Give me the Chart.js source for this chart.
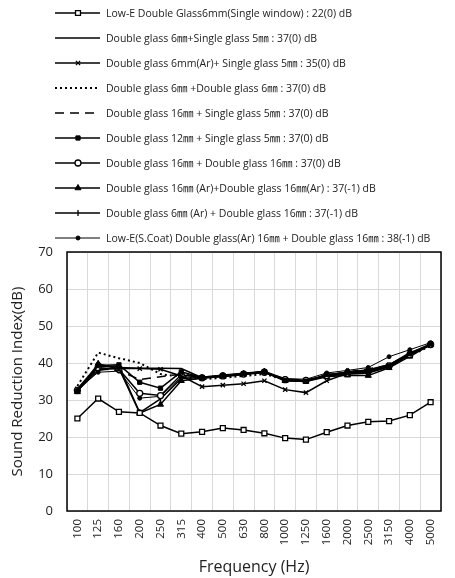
<!DOCTYPE html>
<html><head><meta charset="utf-8">
<script src="https://cdn.jsdelivr.net/npm/chart.js@4/dist/chart.umd.min.js"></script>
<style>html,body{margin:0;padding:0;background:#fff;}canvas{display:block;}</style>
</head><body>
<canvas id="c" width="455" height="578"></canvas>
<script>
const frequencies = ['100','125','160','200','250','315','400','500','630','800','1000','1250','1600','2000','2500','3150','4000','5000'];
const lowESingle   = [25.0,30.4,26.8,26.5,23.1,20.9,21.4,22.4,21.9,21.0,19.7,19.3,21.3,23.1,24.1,24.3,25.9,29.4];
const dbl6Single5  = [32.5,38.0,38.8,38.6,38.6,38.5,36.0,36.3,36.9,37.4,35.3,35.0,36.8,37.5,38.2,39.5,42.5,44.8];
const dbl6ArSingle5= [33.0,39.5,38.5,38.5,38.3,36.5,33.6,34.0,34.4,35.2,32.8,32.0,35.2,37.2,38.0,39.5,42.8,44.9];
const dbl6Dbl6     = [33.8,42.8,41.3,40.0,37.0,36.3,35.6,36.0,36.5,37.0,35.5,35.3,36.5,37.5,38.0,39.0,42.0,44.6];
const dbl16Single5 = [33.0,38.5,38.0,35.5,36.3,37.0,36.2,36.5,37.0,37.5,35.6,35.4,36.6,37.6,38.4,39.4,42.4,45.0];
const dbl12Single5 = [32.3,39.3,39.5,34.8,33.2,37.6,36.1,36.6,37.1,37.6,35.3,35.1,36.9,37.4,37.5,39.0,42.5,45.2];
const dbl16Dbl16   = [32.6,38.7,38.3,31.8,31.2,36.8,36.0,36.5,37.0,37.5,35.5,35.3,36.6,37.2,37.8,39.2,42.2,45.0];
const dbl16ArDbl16Ar=[32.2,39.8,38.5,26.5,28.8,35.2,35.9,36.4,37.0,37.7,35.2,35.0,36.3,36.7,36.6,38.7,41.8,44.9];
const dbl6ArDbl16  = [32.4,39.0,39.2,26.6,30.3,35.8,36.1,36.6,37.1,37.6,35.4,35.2,36.5,37.0,37.3,39.0,42.2,45.0];
const lowECoatDbl16= [32.8,37.5,37.8,30.5,31.0,36.2,36.2,36.8,37.3,37.8,35.8,35.6,37.3,38.0,38.8,41.7,43.6,45.5];
const seriesLabels = [
  'Low-E Double Glass6mm(Single window) : 22(0) dB',
  'Double glass 6\u339C+Single glass 5\u339C : 37(0) dB',
  'Double glass 6mm(Ar)+ Single glass 5\u339C : 35(0) dB',
  'Double glass 6\u339C +Double glass 6\u339C : 37(0) dB',
  'Double glass 16\u339C + Single glass 5\u339C : 37(0) dB',
  'Double glass 12\u339C + Single glass 5\u339C : 37(0) dB',
  'Double glass 16\u339C + Double glass 16\u339C : 37(0) dB',
  'Double glass 16\u339C (Ar)+Double glass 16\u339C(Ar) : 37(-1) dB',
  'Double glass 6\u339C (Ar) + Double glass 16\u339C : 37(-1) dB',
  'Low-E(S.Coat) Double glass(Ar) 16\u339C + Double glass 16\u339C : 38(-1) dB'
];
const seriesValues = [lowESingle,dbl6Single5,dbl6ArSingle5,dbl6Dbl6,dbl16Single5,dbl12Single5,dbl16Dbl16,dbl16ArDbl16Ar,dbl6ArDbl16,lowECoatDbl16];
const yMin = 0, yMax = 70, yStep = 10;

const FONT = "'Open Sans','Noto Sans CJK KR',sans-serif";
const styles = [
  {ps:'rect', r:3.5, bg:'#fff', bw:1.3, lw:1.5, dash:[]},
  {ps:false, r:0, bg:'#000', bw:1, lw:1.5, dash:[]},
  {ps:'crossRot', r:3, bg:'#000', bw:1.3, lw:1.5, dash:[]},
  {ps:false, r:0, bg:'#000', bw:1, lw:2, dash:[2,3]},
  {ps:false, r:0, bg:'#000', bw:1, lw:1.5, dash:[9,6]},
  {ps:'rect', r:3, bg:'#000', bw:1, lw:1.5, dash:[]},
  {ps:'circle', r:3, bg:'#fff', bw:1.3, lw:1.5, dash:[]},
  {ps:'triangle', r:3.5, bg:'#000', bw:1, lw:1.5, dash:[]},
  {ps:'line', r:3, bg:'#000', bw:1.3, lw:1.5, dash:[], rot:90},
  {ps:'circle', r:2, bg:'#000', bw:1, lw:1, dash:[]}
];

const datasets = seriesValues.map((vals,i)=>{
  const s = styles[i];
  return {
    label: seriesLabels[i], data: vals,
    borderColor:'#000', borderWidth:s.lw, borderDash:s.dash,
    pointStyle: s.ps || 'circle', pointRadius: s.ps ? s.r : 0,
    pointRotation: s.rot || 0,
    pointBackgroundColor:s.bg, pointBorderColor:'#000', pointBorderWidth:s.bw,
    tension:0, fill:false
  };
});

const legendPlugin = {
  id:'customLegend',
  afterDraw(chart){
    const ctx = chart.ctx;
    ctx.save();
    seriesLabels.forEach((lab,i)=>{
      const s = styles[i];
      const y = 13 + 25*i;
      ctx.strokeStyle='#000'; ctx.lineWidth=s.lw; ctx.setLineDash(s.dash);
      ctx.beginPath(); ctx.moveTo(55,y); ctx.lineTo(100,y); ctx.stroke();
      ctx.setLineDash([]);
      if (s.ps){
        ctx.fillStyle=s.bg; ctx.strokeStyle='#000'; ctx.lineWidth=s.bw;
        Chart.helpers.drawPoint(ctx,{pointStyle:s.ps,radius:s.r,rotation:s.rot||0,borderWidth:s.bw},78,y);
      }
      ctx.fillStyle='#222'; ctx.font='10.5px '+FONT; ctx.textBaseline='middle'; ctx.textAlign='left';
      ctx.fillText(lab,106,y+1);
    });
    ctx.restore();
  }
};
const framePlugin = {
  id:'frame',
  beforeDatasetsDraw(chart){
    const a = chart.chartArea, ctx = chart.ctx;
    ctx.save(); ctx.strokeStyle='#000'; ctx.lineWidth=1.5;
    ctx.strokeRect(a.left,a.top,a.right-a.left,a.bottom-a.top);
    ctx.restore();
  }
};

new Chart(document.getElementById('c'),{
  type:'line',
  data:{labels:frequencies, datasets},
  options:{
    responsive:false, animation:false, devicePixelRatio:1,
    layout:{padding:{top:252,right:14,left:0,bottom:0}},
    plugins:{legend:{display:false}, tooltip:{enabled:false}},
    scales:{
      x:{
        offset:true,
        grid:{offset:true, color:'#d9d9d9', lineWidth:1, drawTicks:false},
        border:{display:false},
        ticks:{color:'#222', font:{family:FONT,size:11.5}, minRotation:90, maxRotation:90, padding:8, autoSkip:false},
        title:{display:true, text:'Frequency (Hz)', color:'#222', font:{family:FONT,size:16}, padding:{top:0,bottom:1}},
        afterFit(sc){ sc.height = 67; }
      },
      y:{
        min:yMin, max:yMax,
        grid:{color:'#d9d9d9', lineWidth:1, drawTicks:false},
        border:{display:false},
        ticks:{stepSize:yStep, color:'#222', font:{family:FONT,size:13}, padding:14},
        title:{display:true, text:'Sound Reduction Index(dB)', color:'#222', font:{family:FONT,size:15}, padding:{top:9,bottom:0}},
        afterFit(sc){ sc.width = 67; }
      }
    }
  },
  plugins:[legendPlugin, framePlugin]
});
</script>
</body></html>
